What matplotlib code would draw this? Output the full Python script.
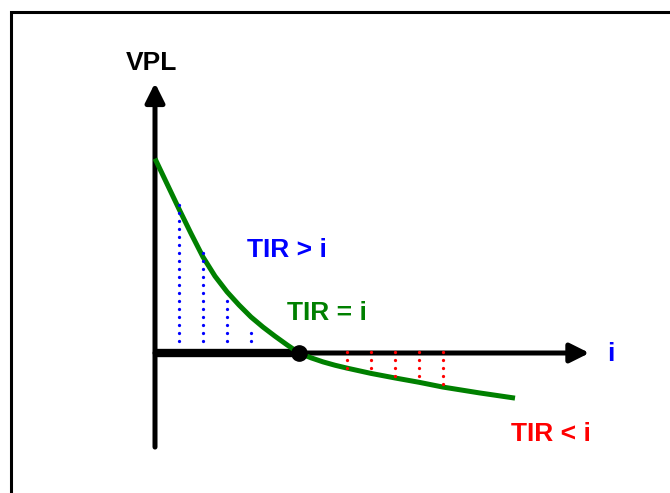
import matplotlib
matplotlib.use("Agg")
import matplotlib.pyplot as plt

# ------------------------------
# DATA (1 unit = one dotted-line step)
# ------------------------------
curve_i = [0, 0.5, 1, 1.5, 2, 2.5, 3, 3.5, 4, 4.5, 5, 5.5, 6,
           6.5, 7, 7.5, 8, 9, 10, 11, 12, 13.5, 15]
curve_vpl = [8.1, 7.05, 6.0, 4.98, 4.0, 3.2, 2.55, 2.0, 1.5, 1.08, 0.7, 0.34, 0.0,
             -0.2, -0.37, -0.51, -0.63, -0.85, -1.04, -1.22, -1.42, -1.66, -1.88]

pos_i = [1, 2, 3, 4]
pos_top = [6.3, 4.3, 2.2, 1.1]
pos_base = 0.5

neg_i = [8, 9, 10, 11, 12]
neg_bottom = [-0.67, -0.75, -1.0, -1.25, -1.58]
neg_base = 0.05

tir_i = 6
y_axis_range = (-3.92, 11.25)
x_axis_end = 18.1

GREEN = "#008000"
BLUE = "#0000FF"
RED = "#FF0000"

plt.rcParams['font.family'] = ['Liberation Sans', 'DejaVu Sans']

fig = plt.figure(figsize=(6.7, 4.93), dpi=100)
ax = fig.add_axes([0, 0, 1, 1])
ax.set_xlim(-155 / 24, 515 / 24)
ax.set_ylim(-140 / 24, 353 / 24)
ax.axis('off')

# frame (left and top only)
ax.plot([11 / 670, 11 / 670, 1], [0, 1 - 12 / 493, 1 - 12 / 493], color='black',
        lw=2.2, transform=ax.transAxes, solid_joinstyle='miter', clip_on=False)

# axes with arrows
arrow_props = dict(arrowstyle='-|>,head_length=0.8,head_width=0.4', color='black',
                   lw=3.6, mutation_scale=14.4, shrinkA=0, shrinkB=0)
ax.annotate('', xy=(0, y_axis_range[1]), xytext=(0, y_axis_range[0]), arrowprops=arrow_props)
ax.annotate('', xy=(x_axis_end, 0), xytext=(0, 0), arrowprops=arrow_props)
ax.plot([0, tir_i], [0, 0], color='black', lw=6, solid_capstyle='butt', zorder=3)

# curve
ax.plot(curve_i, curve_vpl, color=GREEN, lw=3.6, solid_capstyle='butt',
        solid_joinstyle='round', zorder=4)

# dotted lines
dot_style = dict(lw=2.4, linestyle=(0, (0.001, 2.4)), dash_capstyle='round', zorder=5)
for x, top in zip(pos_i, pos_top):
    ax.plot([x, x], [pos_base, top], color=BLUE, **dot_style)
for x, bottom in zip(neg_i, neg_bottom):
    ax.plot([x, x], [neg_base, bottom], color=RED, **dot_style)

ax.plot([tir_i], [0], 'o', color='black', markersize=11, zorder=6)

# labels
txt = dict(fontsize=19, fontweight='bold', va='baseline')
ax.text(-0.125, 11.79, 'VPL', color='black', ha='center', **txt)
ax.text(3.83, 4.0, 'TIR > i', color=BLUE, ha='left', **txt)
ax.text(5.5, 1.375, 'TIR = i', color=GREEN, ha='left', **txt)
ax.text(14.83, -3.67, 'TIR < i', color=RED, ha='left', **txt)
ax.text(19.0, -0.33, 'i', color=BLUE, ha='center', **txt)

fig.savefig('out.png', dpi=100)
